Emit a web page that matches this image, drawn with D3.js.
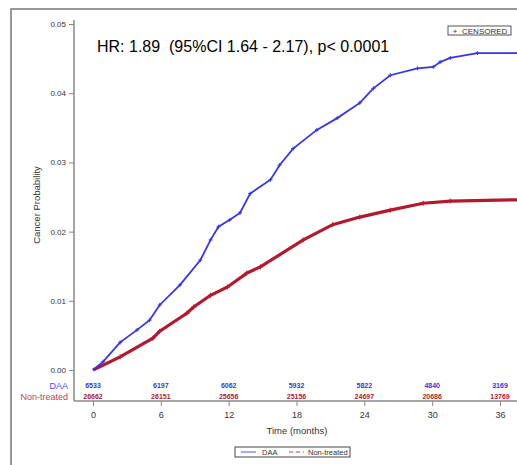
<!DOCTYPE html>
<html>
<head>
<meta charset="utf-8" />
<title>Cancer probability - DAA vs Non-treated</title>
<script src="https://cdn.jsdelivr.net/npm/d3@7"></script>
<style>
  html, body { margin: 0; padding: 0; background: #fff; }
  svg { display: block; font-family: "Liberation Sans", Arial, sans-serif; }
</style>
</head>
<body>
<div id="chart"></div>
<script>
// cumulative cancer probability (months, probability)
var daaTime  = [0, 0.9, 2.4, 3.9, 5.0, 5.9, 7.7, 9.5, 10.4, 11.1, 12.1, 13.0, 13.9, 15.7, 16.5, 17.7, 19.8, 21.6, 23.6, 24.8, 26.3, 28.7, 30.1, 30.7, 31.6, 34.0, 37.6];
var daaProb  = [0, 0.0012, 0.0040, 0.0058, 0.0072, 0.0094, 0.0123, 0.0159, 0.0188, 0.0207, 0.0217, 0.0227, 0.0255, 0.0275, 0.0296, 0.0320, 0.0347, 0.0364, 0.0386, 0.0407, 0.0426, 0.0436, 0.0438, 0.0445, 0.0451, 0.0458, 0.0458];
var ntTime   = [0, 2.4, 5.3, 5.9, 8.3, 8.9, 10.4, 11.9, 13.6, 14.8, 18.6, 21.2, 23.6, 26.3, 29.2, 31.6, 37.6];
var ntProb   = [0, 0.0019, 0.0046, 0.0056, 0.0082, 0.0091, 0.0108, 0.0120, 0.0140, 0.0149, 0.0188, 0.0210, 0.0221, 0.0231, 0.0241, 0.0244, 0.0246];

var xTicks = [0, 6, 12, 18, 24, 30, 36];
var yTicks = [0, 0.01, 0.02, 0.03, 0.04, 0.05];
var atRiskDAA = [6533, 6197, 6062, 5932, 5822, 4840, 3169];
var atRiskNT  = [26662, 26151, 25656, 25156, 24697, 20686, 13769];

var W = 517, H = 465;
var blue = "#3636e6", red = "#b3192c";

var svg = d3.select("#chart").append("svg").attr("width", W).attr("height", H);

// outer frame (only top and left edges fall inside the picture)
svg.append("rect").attr("x", 11).attr("y", 9).attr("width", 600).attr("height", 600)
  .attr("fill", "none").attr("stroke", "#777").attr("stroke-width", 1.5);

var x = d3.scaleLinear().domain([0, 36]).range([93, 500]);
var y = d3.scaleLinear().domain([0, 0.05]).range([370, 24]);

var axisCol = "#888";

// y axis
svg.append("line").attr("x1", 74).attr("x2", 74).attr("y1", 20).attr("y2", 401)
  .attr("stroke", axisCol).attr("stroke-width", 1.5);
var yg = svg.append("g").attr("transform", "translate(74,0)")
  .call(d3.axisLeft(y).tickValues(yTicks).tickFormat(d3.format(".2f")).tickSize(5).tickSizeOuter(0));
yg.select(".domain").remove();
yg.selectAll("line").attr("stroke", axisCol);
yg.selectAll("text").attr("font-size", 8).attr("fill", "#333").attr("font-family", "Liberation Sans, Arial");

// x axis
svg.append("line").attr("x1", 74).attr("x2", W).attr("y1", 401).attr("y2", 401)
  .attr("stroke", axisCol).attr("stroke-width", 1.5);
var xg = svg.append("g").attr("transform", "translate(0,401)")
  .call(d3.axisBottom(x).tickValues(xTicks).tickSize(5).tickSizeOuter(0));
xg.select(".domain").remove();
xg.selectAll("line").attr("stroke", axisCol);
xg.selectAll("text").attr("font-size", 9).attr("fill", "#333").attr("dy", "0.95em").attr("font-family", "Liberation Sans, Arial");

svg.append("text").attr("x", 297).attr("y", 434).attr("text-anchor", "middle")
  .attr("font-size", 9.5).attr("fill", "#333").text("Time (months)");

svg.append("text").attr("transform", "translate(40,205) rotate(-90)").attr("text-anchor", "middle")
  .attr("font-size", 9.5).attr("fill", "#333").text("Cancer Probability");

// number at risk
svg.append("text").attr("x", 68).attr("y", 389).attr("text-anchor", "end")
  .attr("font-size", 9).attr("fill", "#5050ee").text("DAA");
svg.append("text").attr("x", 68).attr("y", 400).attr("text-anchor", "end")
  .attr("font-size", 9).attr("fill", "#c8404f").text("Non-treated");

svg.selectAll(".riskD").data(atRiskDAA).enter().append("text")
  .attr("x", function(d, i) { return x(xTicks[i]); }).attr("y", 388)
  .attr("text-anchor", "middle").attr("font-size", 7).attr("font-weight", "bold")
  .attr("fill", blue).text(function(d) { return d; });
svg.selectAll(".riskN").data(atRiskNT).enter().append("text")
  .attr("x", function(d, i) { return x(xTicks[i]); }).attr("y", 399)
  .attr("text-anchor", "middle").attr("font-size", 7).attr("font-weight", "bold")
  .attr("fill", red).text(function(d) { return d; });

// curves
var daa = daaTime.map(function(t, i) { return [t, daaProb[i]]; });
var nt = ntTime.map(function(t, i) { return [t, ntProb[i]]; });
var line = d3.line().x(function(d) { return x(d[0]); }).y(function(d) { return y(d[1]); });

svg.append("path").datum(nt).attr("d", line).attr("fill", "none")
  .attr("stroke", red).attr("stroke-width", 3.2);
svg.append("path").datum(daa).attr("d", line).attr("fill", "none")
  .attr("stroke", blue).attr("stroke-width", 1.8);

// censor marks on data points
function marks(data, col, s) {
  svg.append("g").selectAll("path").data(data.slice(1)).enter().append("path")
    .attr("d", function(d) {
      var px = x(d[0]), py = y(d[1]);
      return "M" + (px - s) + "," + py + "H" + (px + s) + "M" + px + "," + (py - s) + "V" + (py + s);
    })
    .attr("stroke", col).attr("stroke-width", 1);
}
marks(daa, blue, 2);
marks(nt, red, 2.5);

// HR annotation
svg.append("text").attr("x", 97).attr("y", 52).attr("font-size", 16).attr("fill", "#000")
  .attr("xml:space", "preserve").text("HR: 1.89  (95%CI 1.64 - 2.17), p< 0.0001");

// censored legend
svg.append("rect").attr("x", 448).attr("y", 26).attr("width", 63).attr("height", 9)
  .attr("fill", "#fff").attr("stroke", "#555").attr("stroke-width", 1);
svg.append("text").attr("x", 455).attr("y", 33.5).attr("text-anchor", "middle")
  .attr("font-size", 8).attr("fill", "#333").text("+");
svg.append("text").attr("x", 462).attr("y", 33.5)
  .attr("font-size", 8).attr("fill", "#333").text("CENSORED");

// bottom legend
svg.append("rect").attr("x", 235).attr("y", 447).attr("width", 115).attr("height", 10)
  .attr("fill", "#fff").attr("stroke", "#444").attr("stroke-width", 1);
svg.append("line").attr("x1", 241).attr("x2", 256).attr("y1", 452).attr("y2", 452)
  .attr("stroke", "#5050ee").attr("stroke-width", 1);
svg.append("text").attr("x", 262).attr("y", 455).attr("font-size", 7.5).attr("fill", "#333").text("DAA");
svg.append("line").attr("x1", 289).attr("x2", 304).attr("y1", 452).attr("y2", 452)
  .attr("stroke", "#c8404f").attr("stroke-width", 1).attr("stroke-dasharray", "4,3");
svg.append("text").attr("x", 308).attr("y", 455).attr("font-size", 7.5).attr("fill", "#333").text("Non-treated");
</script>
</body>
</html>
